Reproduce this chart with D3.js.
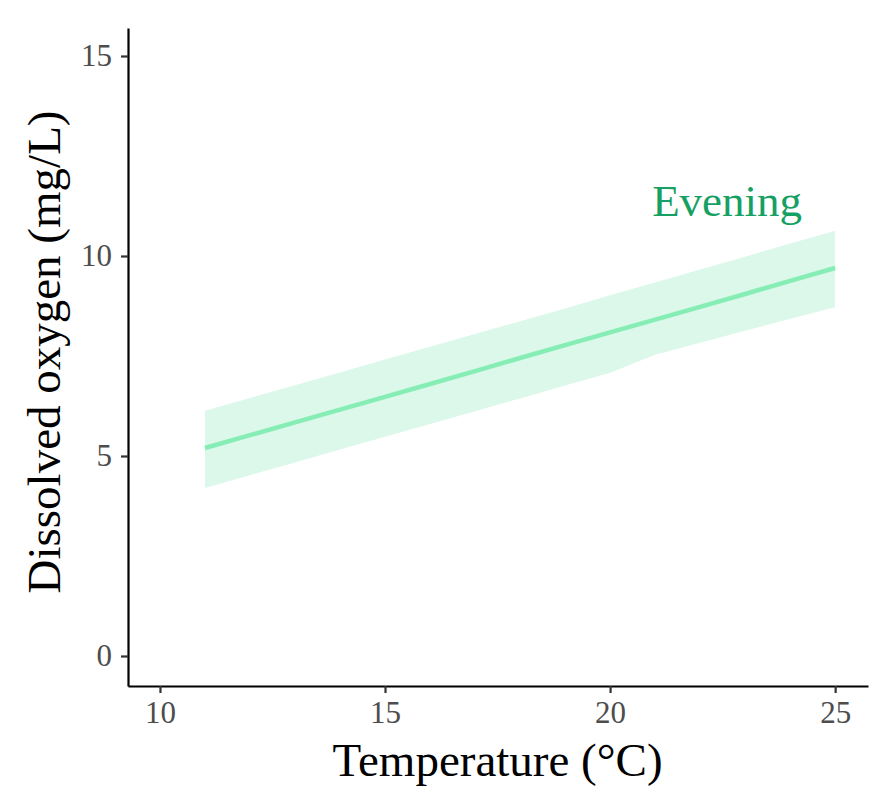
<!DOCTYPE html>
<html>
<head>
<meta charset="utf-8">
<script src="https://cdn.jsdelivr.net/npm/d3@7"></script>
<style>
  body { margin: 0; background: #fff; }
  text { font-family: "Liberation Serif", "Times New Roman", serif; }
</style>
</head>
<body>
<div id="my_dataviz"></div>
<script>
// data
var temps = [11, 12, 13, 14, 15, 16, 17, 18, 19, 20, 21, 22, 23, 24, 25];
var fitDO = [5.2, 5.52, 5.84, 6.16, 6.48, 6.8, 7.12, 7.45, 7.77, 8.09, 8.41, 8.73, 9.05, 9.38, 9.7];
var upperDO = [6.13, 6.45, 6.77, 7.09, 7.41, 7.73, 8.05, 8.37, 8.69, 9.02, 9.34, 9.66, 9.98, 10.31, 10.63];
var lowerDO = [4.2, 4.52, 4.84, 5.16, 5.48, 5.8, 6.12, 6.44, 6.76, 7.08, 7.53, 7.83, 8.13, 8.43, 8.72];
var xTicks = [10, 15, 20, 25];
var yTicks = [0, 5, 10, 15];
var seriesLabel = "Evening";

// set the dimensions and margins of the graph
var margin = {top: 28, right: 3, bottom: 107, left: 128},
    width = 871 - margin.left - margin.right,
    height = 793 - margin.top - margin.bottom;

var svg = d3.select("#my_dataviz")
  .append("svg")
    .attr("width", width + margin.left + margin.right)
    .attr("height", height + margin.top + margin.bottom)
  .append("g")
    .attr("transform", "translate(" + margin.left + "," + margin.top + ")");

var rows = temps.map(function(t, i) {
  return {t: t, fit: fitDO[i], lo: lowerDO[i], hi: upperDO[i]};
});

var x = d3.scaleLinear()
  .domain([9.29, 25.73])
  .range([0, width]);

var y = d3.scaleLinear()
  .domain([-0.75, 15.7])
  .range([height, 0]);

// ribbon
svg.append("path")
  .datum(rows)
  .attr("fill", "#dbf8ea")
  .attr("d", d3.area()
    .x(function(d) { return x(d.t); })
    .y0(function(d) { return y(d.lo); })
    .y1(function(d) { return y(d.hi); }));

// fitted line
svg.append("path")
  .datum(rows)
  .attr("fill", "none")
  .attr("stroke", "#86eeb5")
  .attr("stroke-width", 4.5)
  .attr("d", d3.line()
    .x(function(d) { return x(d.t); })
    .y(function(d) { return y(d.fit); }));

// label
svg.append("text")
  .attr("x", x(22.6))
  .attr("y", y(11.0))
  .attr("text-anchor", "middle")
  .attr("fill", "#17a063")
  .style("font-size", "45px")
  .text(seriesLabel);

// X axis
var xAxis = svg.append("g")
  .attr("transform", "translate(0," + height + ")")
  .call(d3.axisBottom(x).tickValues(xTicks).tickSize(7).tickPadding(8).tickSizeOuter(0));

// Y axis
var yAxis = svg.append("g")
  .call(d3.axisLeft(y).tickValues(yTicks).tickSize(7).tickPadding(9).tickSizeOuter(0));

[xAxis, yAxis].forEach(function(ax) {
  ax.select(".domain").attr("stroke", "#000").attr("stroke-width", 2.2);
  ax.selectAll(".tick line").attr("stroke", "#333").attr("stroke-width", 2.2);
  ax.selectAll(".tick text")
    .attr("fill", "#4d4d4d")
    .style("font-family", "'Liberation Serif', serif")
    .style("font-size", "31px");
});

// axis titles
svg.append("text")
  .attr("x", x(17.5))
  .attr("y", height + 90)
  .attr("text-anchor", "middle")
  .attr("fill", "#000")
  .style("font-size", "47px")
  .text("Temperature (°C)");

svg.append("text")
  .attr("transform", "translate(" + (-68) + "," + (y(7.6)) + ")rotate(-90)")
  .attr("text-anchor", "middle")
  .attr("fill", "#000")
  .style("font-size", "47px")
  .text("Dissolved oxygen (mg/L)");
</script>
</body>
</html>
